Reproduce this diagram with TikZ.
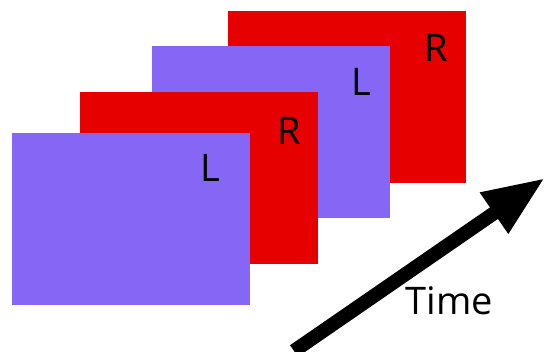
\documentclass[tikz,border=0pt]{standalone}
\usepackage{fontspec}
\setmainfont{Open Sans}
\usetikzlibrary{arrows.meta}
\definecolor{lilac}{RGB}{133,102,245}
\definecolor{frred}{RGB}{230,0,0}

\begin{document}
\begin{tikzpicture}[x=1pt,y=-1pt,>={Triangle[length=62pt,width=46pt]}]
\tikzset{
    lframe/.style={%
        fill=lilac,
        rectangle, inner sep=0pt,
        anchor=north west,
        minimum height=172pt,
        minimum width=238pt
        },
    rframe/.style={%
        fill=frred,
        rectangle, inner sep=0pt,
        anchor=north west,
        minimum height=172pt,
        minimum width=238pt
        },
    eye/.style={font=\fontsize{38}{40}\selectfont, inner sep=0pt},
}
\useasboundingbox (0,0) rectangle (546,351);
%%%FRAMES, back to front
\node[rframe] (r4) at (227.5,10.7) {};
\node[lframe] (l3) at (152,45.7) {};
\node[rframe] (r2) at (80,91.7) {};
\node[lframe] (l1) at (11.5,132.7) {};
%%%EYE LABELS
\node[eye] (tl1) at (210,168) {L};
\node[eye] (tr2) at (289,131) {R};
\node[eye] (tl3) at (361,82) {L};
\node[eye] (tr4) at (436,48) {R};
%%%TIME
\coordinate (tail) at (294,351);
\coordinate (tip) at (545,178);
\draw[->, line width=14pt] (tail) -- (tip);
\node[eye] (time) at (449.5,301) {Time};
\end{tikzpicture}
\end{document}
